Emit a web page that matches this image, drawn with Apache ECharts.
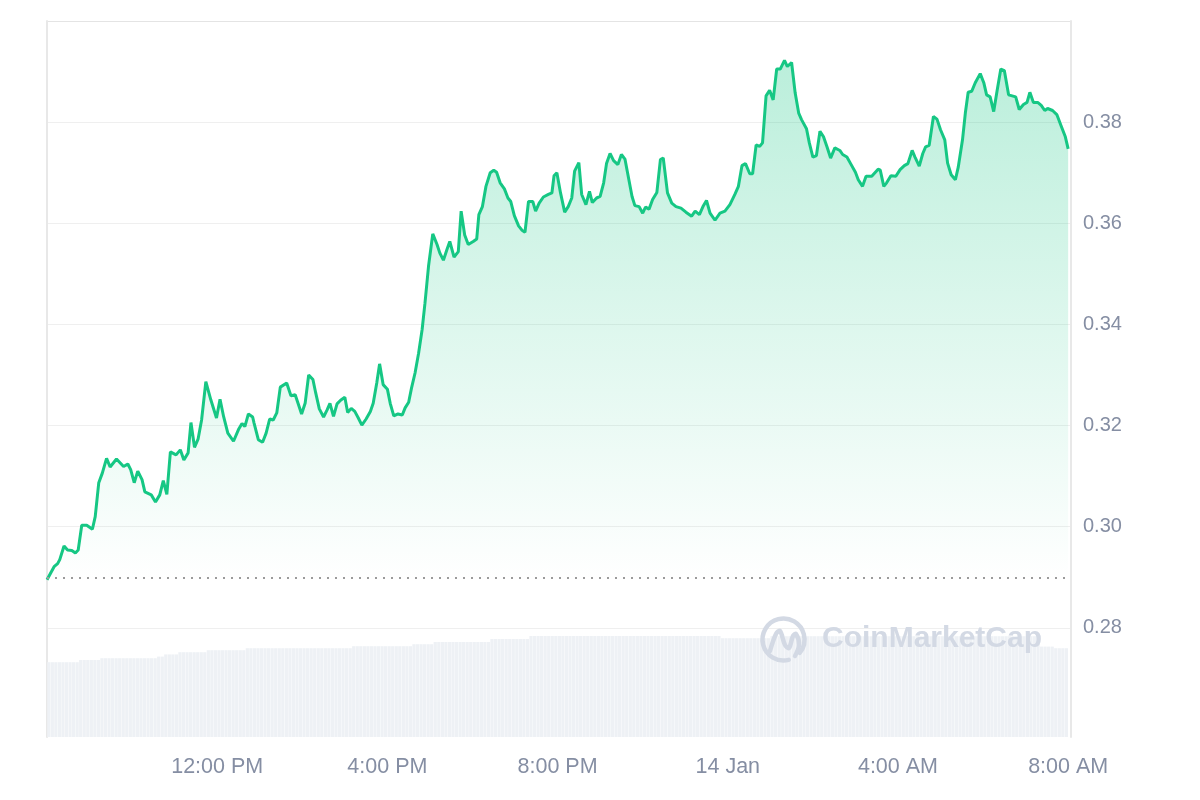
<!DOCTYPE html>
<html>
<head>
<meta charset="utf-8">
<script src="https://cdn.jsdelivr.net/npm/echarts@6/dist/echarts.min.js"></script>
<style>
html,body{margin:0;padding:0;background:#fff;}
#chart{width:1200px;height:800px;}
</style>
</head>
<body>
<div id="chart"></div>
<script>
// minutes since 8:00 AM (13 Jan)
const times = [
0,10,15,18,24,29,35,40,44,49,
56,64,68,73,78,84,89,98,108,114,
118,123,128,134,138,147,153,159,164,169,
174,182,188,193,199,203,208,213,218,224,
231,239,244,249,255,263,270,275,279,284,
290,292,298,304,309,314,319,324,329,338,
344,350,354,359,364,369,375,379,384,390,
395,399,404,409,414,420,424,429,434,439,
444,450,456,460,465,469,474,480,484,489,
495,501,505,510,514,519,524,529,533,538,
544,550,554,559,564,568,574,580,584,589,
594,601,606,609,614,619,625,630,634,639,
645,650,654,659,665,670,674,679,685,689,
694,700,707,712,715,719,724,730,735,740,
744,750,754,760,765,769,775,780,785,789,
794,799,805,810,815,820,825,829,835,840,
844,849,854,860,865,869,875,881,887,894,
901,909,914,920,925,930,935,942,949,956,
963,970,975,980,985,991,995,1000,1005,1009,
1014,1019,1024,1029,1034,1040,1044,1050,1055,1060,
1064,1071,1075,1080,1085,1090,1095,1100,1105,1111,
1118,1122,1128,1134,1140,1144,1150,1155,1160,1163,
1172,1175,1180,1184,1190,1197,1203,1209,1214,1220,
1224,1230,1235,1239,1244,1250,1255,1260,1266,1270,
1275,1281,1285,1291,1295,1299,1304,1309,1316,1321,
1325,1330,1335,1340,1345,1350,1356,1361,1366,1371,
1377,1382,1386,1391,1397,1402,1407,1411,1418,1424,
1430,1436,1440
];
const prices = [
0.2895,0.2921,0.2927,0.2935,0.2962,0.2954,0.2953,0.2948,0.2954,0.3003,
0.3003,0.2995,0.3020,0.3087,0.3106,0.3135,0.3118,0.3134,0.3119,0.3124,
0.3113,0.3087,0.3110,0.3093,0.3069,0.3063,0.3049,0.3063,0.3091,0.3064,
0.3148,0.3142,0.3152,0.3132,0.3146,0.3206,0.3157,0.3173,0.3211,0.3287,
0.3251,0.3215,0.3252,0.3218,0.3185,0.3169,0.3192,0.3204,0.3198,0.3223,
0.3217,0.3205,0.3172,0.3167,0.3185,0.3213,0.3211,0.3225,0.3276,0.3284,
0.3259,0.3261,0.3244,0.3223,0.3244,0.3300,0.3291,0.3264,0.3233,0.3217,
0.3231,0.3244,0.3218,0.3243,0.3250,0.3256,0.3226,0.3234,0.3228,0.3215,
0.3201,0.3213,0.3228,0.3244,0.3284,0.3322,0.3281,0.3272,0.3244,0.3219,
0.3223,0.3221,0.3235,0.3246,0.3274,0.3304,0.3343,0.3390,0.3442,0.3515,
0.3579,0.3558,0.3541,0.3527,0.3548,0.3564,0.3533,0.3544,0.3624,0.3577,
0.3558,0.3564,0.3569,0.3617,0.3633,0.3673,0.3700,0.3705,0.3701,0.3680,
0.3668,0.3650,0.3643,0.3615,0.3595,0.3586,0.3582,0.3643,0.3643,0.3624,
0.3640,0.3652,0.3657,0.3660,0.3694,0.3700,0.3661,0.3622,0.3633,0.3650,
0.3703,0.3720,0.3657,0.3637,0.3663,0.3641,0.3650,0.3653,0.3680,0.3718,
0.3738,0.3724,0.3716,0.3736,0.3727,0.3690,0.3653,0.3635,0.3633,0.3620,
0.3632,0.3628,0.3647,0.3661,0.3726,0.3729,0.3660,0.3640,0.3633,0.3630,
0.3622,0.3614,0.3624,0.3617,0.3633,0.3645,0.3620,0.3606,0.3620,0.3624,
0.3637,0.3657,0.3673,0.3714,0.3718,0.3698,0.3698,0.3755,0.3752,0.3759,
0.3852,0.3863,0.3844,0.3905,0.3905,0.3922,0.3910,0.3918,0.3858,0.3818,
0.3805,0.3787,0.3759,0.3731,0.3734,0.3782,0.3771,0.3751,0.3729,0.3749,
0.3744,0.3736,0.3731,0.3716,0.3701,0.3686,0.3673,0.3693,0.3693,0.3693,
0.3707,0.3705,0.3673,0.3680,0.3694,0.3693,0.3706,0.3714,0.3718,0.3744,
0.3731,0.3713,0.3738,0.3751,0.3754,0.3811,0.3806,0.3785,0.3765,0.3719,
0.3696,0.3686,0.3711,0.3765,0.3818,0.3859,0.3861,0.3878,0.3896,0.3878,
0.3854,0.3850,0.3821,0.3864,0.3905,0.3902,0.3854,0.3852,0.3850,0.3825,
0.3835,0.3839,0.3859,0.3839,0.3839,0.3833,0.3823,0.3827,0.3823,0.3815,
0.3793,0.3771,0.3747
];
const openPrice = 0.2894;

// 24h volume (millions), read as steps: start minute -> value
const volStepStart = [0,45,75,155,165,185,225,280,430,515,545,625,680,950,1020,1400,1420];
const volStepValue = [374,385,394,402,413,424,434,444,454,464,475,490,505,494,504,452,444];
const volBarMinutes = 5;
const volBarCount = 288;

const xTickLabels = ['', '12:00 PM', '4:00 PM', '8:00 PM', '14 Jan', '4:00 AM', '8:00 AM'];
const yTickValues = [0.26, 0.28, 0.30, 0.32, 0.34, 0.36, 0.38, 0.40];

if (times.length !== prices.length) console.error('length mismatch', times.length, prices.length);

const priceData = times.map((t, i) => [t, prices[i]]);
const volData = [];
for (let k = 0; k < volBarCount; k++) {
  const start = k * volBarMinutes;
  let v = volStepValue[0];
  for (let s = 0; s < volStepStart.length; s++) if (start >= volStepStart[s]) v = volStepValue[s];
  volData.push([start + volBarMinutes / 2, v]);
}

const FONT = '"Liberation Sans", Arial, Helvetica, sans-serif';
const LABEL_COLOR = '#858ea3';
const GRID_COLOR = '#efefef';
const BORDER_COLOR = '#e8e8e8';
const WM_COLOR = '#d3d9e4';

const chart = echarts.init(document.getElementById('chart'), null, {renderer: 'canvas'});
chart.setOption({
  animation: false,
  backgroundColor: '#ffffff',
  textStyle: {fontFamily: FONT},
  grid: [
    {left: 47, right: 129, top: 21, bottom: 71},
    {left: 47, right: 129, top: 629, bottom: 63}
  ],
  xAxis: [
    {type: 'value', gridIndex: 0, min: 0, max: 1444, interval: 240,
     axisLine: {show: false, onZero: false}, axisTick: {show: false}, axisLabel: {show: false}, splitLine: {show: false}},
    {type: 'value', gridIndex: 1, min: 0, max: 1444, interval: 240,
     axisLine: {show: false, onZero: false}, axisTick: {show: false}, splitLine: {show: false},
     axisLabel: {show: true, interval: 0, margin: 19, color: LABEL_COLOR, fontSize: 21.5, fontFamily: FONT,
       showMinLabel: true, showMaxLabel: true,
       formatter: function (v) { return (v % 240 === 0) ? (xTickLabels[v / 240] || '') : ''; }}}
  ],
  yAxis: [
    {type: 'value', gridIndex: 0, position: 'right', min: yTickValues[0], max: yTickValues[yTickValues.length - 1], interval: 0.02,
     axisLine: {show: true, onZero: false, lineStyle: {color: BORDER_COLOR, width: 2}}, axisTick: {show: false},
     axisLabel: {margin: 12, color: LABEL_COLOR, fontSize: 20, fontFamily: FONT,
       formatter: function (v) { return v < 0.27 || v > 0.39 ? '' : v.toFixed(2); }},
     splitLine: {show: true, lineStyle: {width: 1,
       color: ['rgba(0,0,0,0)', GRID_COLOR, GRID_COLOR, GRID_COLOR, GRID_COLOR, GRID_COLOR, GRID_COLOR, '#e4e4e4']}}},
    {type: 'value', gridIndex: 0, position: 'left', min: yTickValues[0], max: yTickValues[yTickValues.length - 1],
     axisLine: {show: true, onZero: false, lineStyle: {color: BORDER_COLOR, width: 2}}, axisTick: {show: false},
     axisLabel: {show: false}, splitLine: {show: false}},
    {type: 'value', gridIndex: 1, position: 'left', min: 0, max: 540,
     axisLine: {show: true, onZero: false, lineStyle: {color: BORDER_COLOR, width: 2}}, axisTick: {show: false},
     axisLabel: {show: false}, splitLine: {show: false}},
    {type: 'value', gridIndex: 1, position: 'right', min: 0, max: 540,
     axisLine: {show: true, onZero: false, lineStyle: {color: BORDER_COLOR, width: 2}}, axisTick: {show: false},
     axisLabel: {show: false}, splitLine: {show: false}}
  ],
  graphic: [
    {type: 'arc', z: 5, silent: true,
     shape: {cx: 783.5, cy: 639.5, r: 21, startAngle: Math.PI * 0.42, endAngle: Math.PI * 2.22},
     style: {stroke: WM_COLOR, lineWidth: 4.5, fill: null, lineCap: 'round'}},
    {type: 'polyline', z: 5, silent: true,
     shape: {points: [[770, 651], [776, 634], [780, 631], [785, 645], [789, 648], [793, 636], [796, 634], [799, 645], [795, 656]], smooth: 0.35},
     style: {stroke: WM_COLOR, lineWidth: 4.5, fill: null, lineCap: 'round', lineJoin: 'round'}},
    {type: 'text', z: 5, silent: true, left: 822, top: 624,
     style: {text: 'CoinMarketCap', fill: WM_COLOR, font: 'bold 30px ' + FONT}}
  ],
  series: [
    {type: 'bar', xAxisIndex: 1, yAxisIndex: 2, data: volData, barWidth: 3.2,
     itemStyle: {color: '#eef1f5'}, silent: true, z: 1},
    {type: 'line', xAxisIndex: 0, yAxisIndex: 0, data: priceData, showSymbol: false, smooth: false,
     lineStyle: {color: '#16c784', width: 3}, z: 3,
     areaStyle: {origin: openPrice,
       color: {type: 'linear', x: 0, y: 0, x2: 0, y2: 1, colorStops: [
         {offset: 0, color: 'rgba(22,199,132,0.42)'},
         {offset: 1, color: 'rgba(22,199,132,0.0)'}
       ]}},
     markLine: {silent: true, symbol: 'none', label: {show: false},
       lineStyle: {type: [2, 6], color: '#9b9b9b', width: 2},
       data: [{yAxis: openPrice}]}}
  ]
});
</script>
</body>
</html>
